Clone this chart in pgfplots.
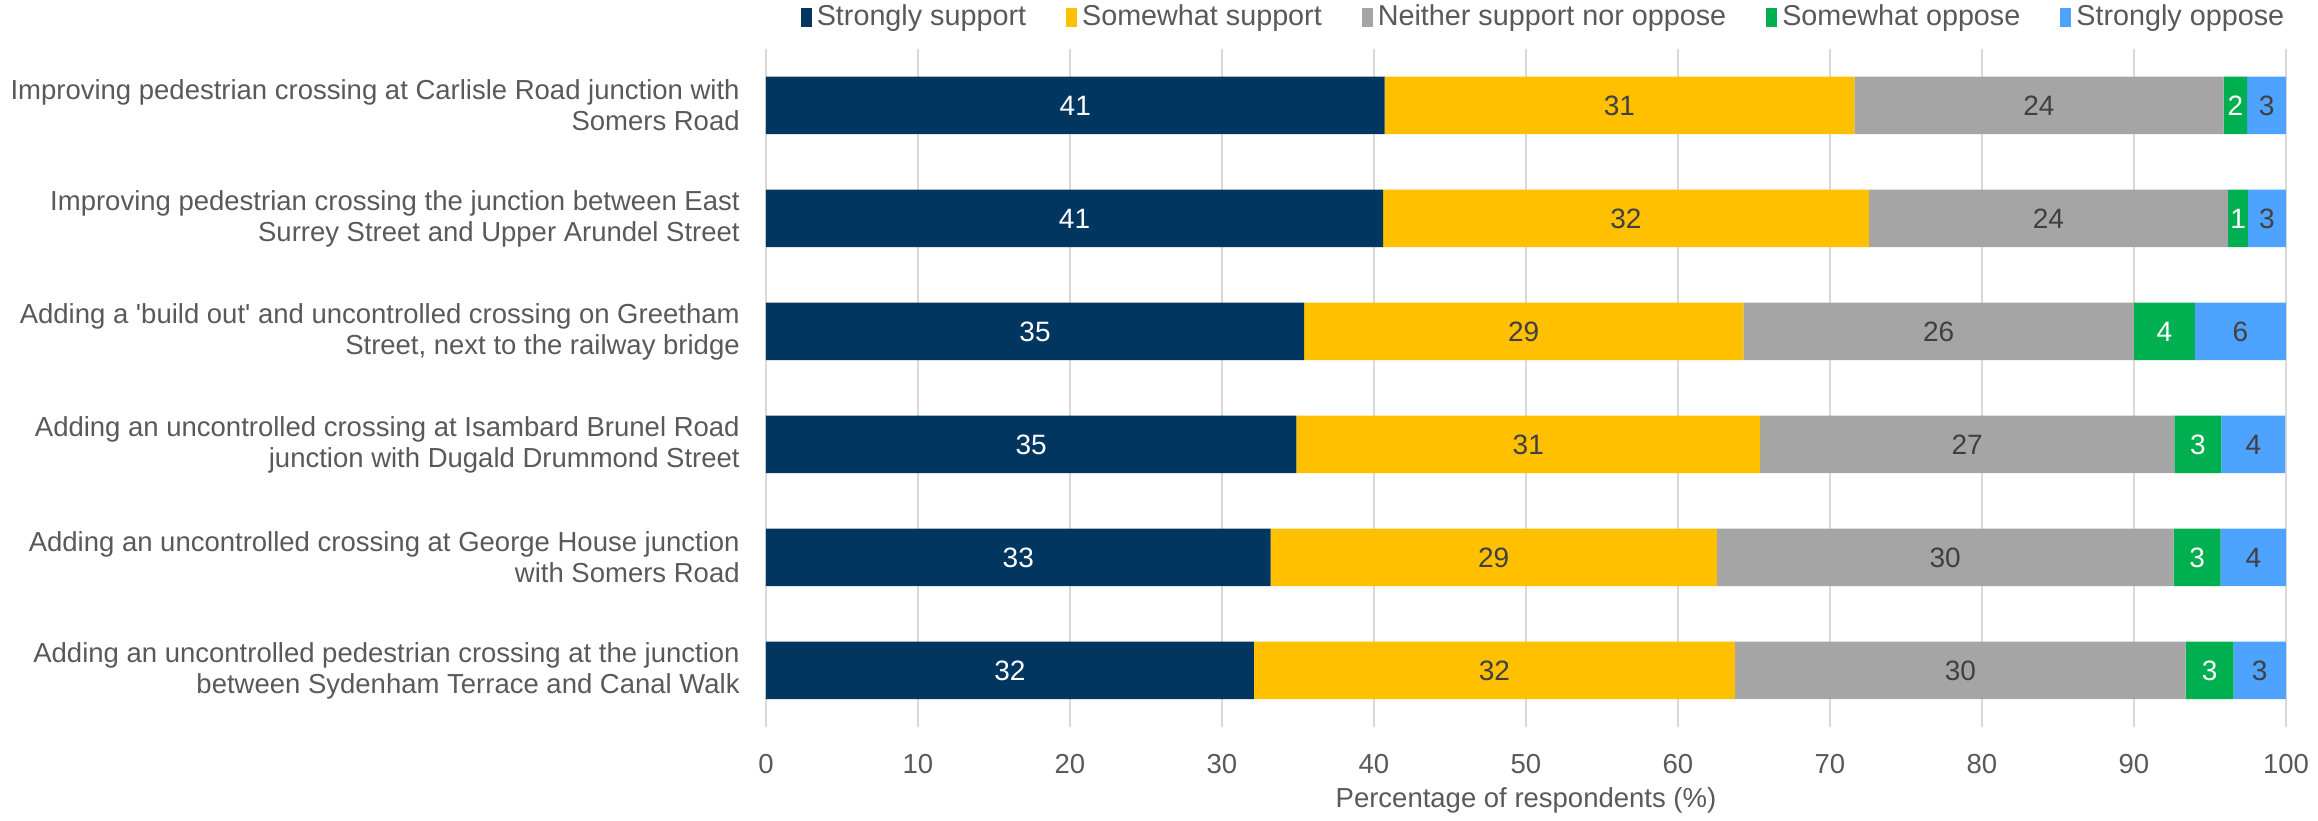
\documentclass[border=0pt]{standalone}
\usepackage{pgfplots}
\usepackage{pgfplotstable}
\pgfplotsset{compat=1.18}
\usepackage{fontspec}
\setmainfont{Liberation Sans}
\definecolor{cSS}{HTML}{003660}
\definecolor{cWS}{HTML}{FFC000}
\definecolor{cNN}{HTML}{A5A5A5}
\definecolor{cWO}{HTML}{00B050}
\definecolor{cSO}{HTML}{4DA3FF}
\definecolor{txtgray}{HTML}{595959}
\definecolor{lblgray}{HTML}{404040}
\definecolor{gridgray}{HTML}{D9D9D9}

\pgfplotstableread{
y x lab
1 40.7 41
2 40.6 41
3 35.4 35
4 34.9 35
5 33.2 33
6 32.1 32
}\tSS
\pgfplotstableread{
y x lab
1 30.9 31
2 31.95 32
3 28.9 29
4 30.5 31
5 29.35 29
6 31.65 32
}\tWS
\pgfplotstableread{
y x lab
1 24.3 24
2 23.65 24
3 25.7 26
4 27.25 27
5 30.05 30
6 29.65 30
}\tNN
\pgfplotstableread{
y x lab
1 1.55 2
2 1.3 1
3 4.0 4
4 3.1 3
5 3.1 3
6 3.15 3
}\tWO
\pgfplotstableread{
y x lab
1 2.55 3
2 2.5 3
3 6.0 6
4 4.2 4
5 4.3 4
6 3.45 3
}\tSO

\begin{document}
\begin{tikzpicture}
\begin{axis}[
  at={(0,0)}, anchor=south west,
  scale only axis,
  width=608pt, height=271.2pt,
  xbar stacked,
  bar width=23pt,
  xmin=0, xmax=100,
  ymin=0.5, ymax=6.5,
  y dir=reverse,
  enlargelimits=false,
  xtick={0,10,...,100},
  ytick={1,2,3,4,5,6},
  yticklabels={
    {Improving pedestrian crossing at Carlisle Road junction with\\Somers Road},
    {Improving pedestrian crossing the junction between East\\Surrey Street and Upper Arundel Street},
    {Adding a \textquotesingle build out\textquotesingle{} and uncontrolled crossing on Greetham\\Street, next to the railway bridge},
    {Adding an uncontrolled crossing at Isambard Brunel Road\\junction with Dugald Drummond Street},
    {Adding an uncontrolled crossing at George House junction\\with Somers Road},
    {Adding an uncontrolled pedestrian crossing at the junction\\between Sydenham Terrace and Canal Walk}},
  /pgf/number format/assume math mode=true,
  major tick length=0pt,
  axis line style={draw=none},
  xmajorgrids,
  major grid style={gridgray, line width=0.6pt},
  tick label style={font=\fontsize{11}{12.4}\selectfont, text=txtgray},
  yticklabel style={align=right, anchor=east, xshift=-7pt},
  xticklabel style={anchor=center, yshift=-14.8pt},
  xlabel={Percentage of respondents (\%)},
  xlabel style={font=\fontsize{11}{12.4}\selectfont, text=txtgray, at={(axis description cs:0.5,0)}, anchor=center, yshift=-29.5pt},
  legend columns=5,
  legend style={draw=none, at={(0.5125,1.047)}, anchor=center, font=\fontsize{11.5}{12.4}\selectfont, text=txtgray,
    /tikz/every even column/.append style={column sep=14pt}, inner sep=0pt},
  legend image code/.code={\fill[#1] (0pt,-3.8pt) rectangle (4.4pt,3.8pt);},
  point meta=explicit symbolic,
  nodes near coords,
  every node near coord/.append style={anchor=center, font=\fontsize{11.2}{12.4}\selectfont},
]
\addplot[fill=cSS, draw=none, every node near coord/.append style={text=white}] table[x=x, y=y, meta=lab] {\tSS};
\addplot[fill=cWS, draw=none, every node near coord/.append style={text=lblgray}] table[x=x, y=y, meta=lab] {\tWS};
\addplot[fill=cNN, draw=none, every node near coord/.append style={text=lblgray}] table[x=x, y=y, meta=lab] {\tNN};
\addplot[fill=cWO, draw=none, every node near coord/.append style={text=white}] table[x=x, y=y, meta=lab] {\tWO};
\addplot[fill=cSO, draw=none, every node near coord/.append style={text=lblgray}] table[x=x, y=y, meta=lab] {\tSO};
\legend{Strongly support, Somewhat support, Neither support nor oppose, Somewhat oppose, Strongly oppose}
\end{axis}
\pgfresetboundingbox
\path[use as bounding box] (-306.4pt,-37.6pt) rectangle (620.8pt,290.8pt);
\end{tikzpicture}
\end{document}
